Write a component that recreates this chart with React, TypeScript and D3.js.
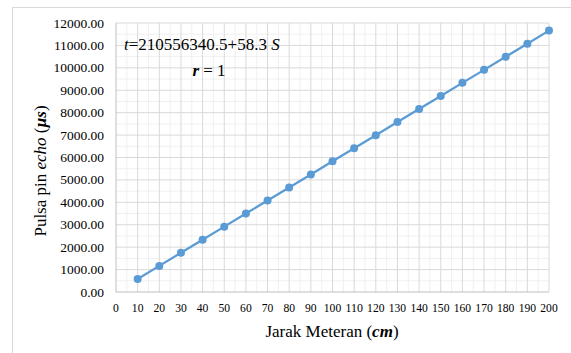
import React, { useRef, useEffect } from 'react';
import * as d3 from 'd3';

// jarak meteran (cm)
const jarak = [10, 20, 30, 40, 50, 60, 70, 80, 90, 100, 110, 120, 130, 140, 150, 160, 170, 180, 190, 200];
// pulsa pin echo (us)
const pulsa = [580, 1165, 1750, 2330, 2915, 3500, 4080, 4665, 5245, 5830, 6410, 6995, 7580, 8160, 8745, 9330, 9910, 10495, 11075, 11660];
const xTicks = d3.range(0, 201, 10);
const yTicks = d3.range(0, 12001, 1000);

const App = () => {
    const ref = useRef<SVGSVGElement>(null);

    useEffect(() => {
        const svg = d3.select(ref.current);
        svg.selectAll('*').remove();

        const left = 116, right = 549, top = 23, bottom = 292;
        const font = '"Liberation Serif", "Times New Roman", serif';

        const x = d3.scaleLinear().domain([0, 200]).range([left, right]);
        const y = d3.scaleLinear().domain([0, 12000]).range([bottom, top]);

        svg.append('rect')
            .attr('x', 12.5).attr('y', 7.5)
            .attr('width', 600).attr('height', 400)
            .attr('fill', '#fff').attr('stroke', '#d9d9d9');

        const grid = svg.append('g');
        // minor lines
        grid.selectAll('.mx')
            .data(d3.range(5, 200, 10))
            .enter().append('line')
            .attr('x1', d => x(d)).attr('x2', d => x(d))
            .attr('y1', top).attr('y2', bottom)
            .attr('stroke', '#f0f0f0');
        grid.selectAll('.my')
            .data(d3.range(500, 12000, 1000))
            .enter().append('line')
            .attr('x1', left).attr('x2', right)
            .attr('y1', d => y(d)).attr('y2', d => y(d))
            .attr('stroke', '#f0f0f0');
        // major lines
        grid.selectAll('.Mx')
            .data(xTicks.slice(1))
            .enter().append('line')
            .attr('x1', d => x(d)).attr('x2', d => x(d))
            .attr('y1', top).attr('y2', bottom)
            .attr('stroke', '#d9d9d9');
        grid.selectAll('.My')
            .data(yTicks.slice(1))
            .enter().append('line')
            .attr('x1', left).attr('x2', right)
            .attr('y1', d => y(d)).attr('y2', d => y(d))
            .attr('stroke', '#d9d9d9');

        // axis lines
        svg.append('line').attr('x1', left).attr('x2', left).attr('y1', top).attr('y2', bottom).attr('stroke', '#bfbfbf');
        svg.append('line').attr('x1', left).attr('x2', right).attr('y1', bottom).attr('y2', bottom).attr('stroke', '#bfbfbf');

        svg.selectAll('.yl')
            .data(yTicks)
            .enter().append('text')
            .attr('x', 104).attr('y', d => y(d) + 4.5)
            .attr('text-anchor', 'end')
            .style('font-family', font).style('font-size', '13.5px').style('fill', '#000')
            .text(d => d3.format('.2f')(d));

        svg.selectAll('.xl')
            .data(xTicks)
            .enter().append('text')
            .attr('x', d => x(d)).attr('y', 312)
            .attr('text-anchor', 'middle')
            .attr('textLength', d => String(d).length * 5.8)
            .attr('lengthAdjust', 'spacingAndGlyphs')
            .style('font-family', font).style('font-size', '13.5px').style('fill', '#000')
            .text(d => d);

        const pts = jarak.map((d, i) => [d, pulsa[i]] as [number, number]);
        const line = d3.line<[number, number]>().x(d => x(d[0])).y(d => y(d[1]));
        svg.append('path')
            .datum(pts)
            .attr('fill', 'none')
            .attr('stroke', '#5b9bd5')
            .attr('stroke-width', 2.25)
            .attr('d', line);
        svg.selectAll('.dot')
            .data(pts)
            .enter().append('circle')
            .attr('cx', d => x(d[0])).attr('cy', d => y(d[1]))
            .attr('r', 4)
            .attr('fill', '#5b9bd5');

        // regression annotation
        const eq = svg.append('text')
            .attr('x', 124).attr('y', 50)
            .style('font-family', font).style('font-size', '17px').style('fill', '#000');
        eq.append('tspan').style('font-style', 'italic').text('t');
        eq.append('tspan').text('=210556340.5+58.3 ');
        eq.append('tspan').style('font-style', 'italic').text('S');

        const rr = svg.append('text')
            .attr('x', 209).attr('y', 76)
            .attr('text-anchor', 'middle')
            .style('font-family', font).style('font-size', '17px').style('fill', '#000');
        rr.append('tspan').style('font-style', 'italic').style('font-weight', 'bold').text('r');
        rr.append('tspan').text(' = 1');

        const xt = svg.append('text')
            .attr('x', 332).attr('y', 337)
            .attr('text-anchor', 'middle')
            .style('font-family', font).style('font-size', '17px').style('fill', '#000');
        xt.append('tspan').text('Jarak Meteran (');
        xt.append('tspan').style('font-style', 'italic').style('font-weight', 'bold').text('cm');
        xt.append('tspan').text(')');

        const yt = svg.append('text')
            .attr('transform', 'translate(46,171) rotate(-90)')
            .attr('text-anchor', 'middle')
            .style('font-family', font).style('font-size', '17px').style('fill', '#000');
        yt.append('tspan').text('Pulsa pin ');
        yt.append('tspan').style('font-style', 'italic').text('echo');
        yt.append('tspan').text(' (');
        yt.append('tspan').style('font-style', 'italic').style('font-weight', 'bold').text('µs');
        yt.append('tspan').text(')');
    }, []);

    return (
        <svg ref={ref} width={571} height={353} style={{ position: 'absolute', left: 0, top: 0 }}></svg>
    );
};

export default App;
